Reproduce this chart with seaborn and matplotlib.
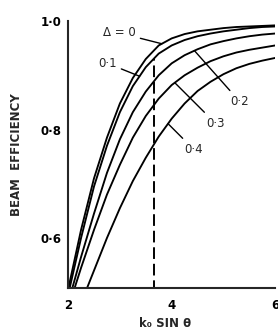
import matplotlib
matplotlib.use("Agg")
import matplotlib.pyplot as plt
from matplotlib.ticker import FixedLocator, FixedFormatter
import numpy as np
import pandas as pd
import seaborn as sns

# Data: beam efficiency vs k0 sin(theta), one curve per Delta
k_sin = [2.0, 2.25, 2.5, 2.75, 3.0, 3.25, 3.5, 3.75, 4.0,
         4.25, 4.5, 4.75, 5.0, 5.25, 5.5, 5.75, 6.0]
eff_d0 = [0.505, 0.615, 0.71, 0.785, 0.848, 0.895, 0.93, 0.955, 0.968,
          0.976, 0.981, 0.984, 0.987, 0.989, 0.99, 0.991, 0.992]
eff_d1 = [0.495, 0.6, 0.695, 0.77, 0.832, 0.88, 0.915, 0.94, 0.955,
          0.965, 0.972, 0.977, 0.981, 0.984, 0.987, 0.989, 0.99]
eff_d2 = [0.48, 0.565, 0.645, 0.72, 0.782, 0.832, 0.87, 0.9, 0.922,
          0.937, 0.948, 0.957, 0.963, 0.968, 0.972, 0.975, 0.977]
eff_d3 = [0.47, 0.545, 0.615, 0.68, 0.735, 0.785, 0.825, 0.857, 0.882,
          0.9, 0.914, 0.926, 0.935, 0.942, 0.947, 0.951, 0.955]
eff_d4 = [0.43, 0.48, 0.54, 0.6, 0.655, 0.705, 0.748, 0.787, 0.82,
          0.848, 0.871, 0.888, 0.902, 0.913, 0.921, 0.927, 0.932]
deltas = ["0", "0·1", "0·2", "0·3", "0·4"]
marker_x = 3.65

curves = [eff_d0, eff_d1, eff_d2, eff_d3, eff_d4]
df = pd.concat([pd.DataFrame({"x": k_sin, "eff": c, "delta": d})
                for c, d in zip(curves, deltas)])

sns.set_style("white")
plt.rcParams["font.family"] = ["DejaVu Sans"]

fig = plt.figure(figsize=(2.78, 3.34), dpi=100)
ax = fig.add_axes([0.245, 0.138, 0.745, 0.799])

sns.lineplot(data=df, x="x", y="eff", hue="delta", palette=["black"] * 5,
             linewidth=1.35, legend=False, ax=ax)

# dashed vertical marker
top = np.interp(marker_x, k_sin, eff_d1)
ax.vlines(marker_x, 0.5, top, colors="black", linestyles=(0, (6, 2.5)), lw=1.4)

# curve labels with leader lines
labels = [("Δ = 0", eff_d0, 3.81, (2.99, 0.978)),
          ("0·1", eff_d1, 3.38, (2.76, 0.922)),
          ("0·2", eff_d2, 4.44, (5.31, 0.852)),
          ("0·3", eff_d3, 4.06, (4.84, 0.812)),
          ("0·4", eff_d4, 3.93, (4.42, 0.764))]
for txt, c, x0, pos in labels:
    ax.annotate(txt, xy=(x0, np.interp(x0, k_sin, c)), xytext=pos,
                ha="center", va="center", fontsize=8.5,
                arrowprops=dict(arrowstyle="-", lw=1.0, color="black",
                                shrinkA=1, shrinkB=0))

ax.set_xlim(2, 6.0)
ax.set_ylim(0.508, 1.0)
ax.xaxis.set_major_locator(FixedLocator([2, 4, 6]))
ax.xaxis.set_minor_locator(FixedLocator([3, 5]))
ax.yaxis.set_major_locator(FixedLocator([0.6, 0.8, 1.0]))
ax.yaxis.set_major_formatter(FixedFormatter(["0·6", "0·8", "1·0"]))
ax.yaxis.set_minor_locator(FixedLocator([0.7, 0.9]))
ax.tick_params(which="both", direction="in", length=4, width=1.1,
               labelsize=8.5, colors="black")
ax.tick_params(axis="x", pad=8)
ax.tick_params(axis="y", pad=5)
for lab in ax.get_xticklabels() + ax.get_yticklabels():
    lab.set_fontweight("bold")

sns.despine(ax=ax)
ax.spines["left"].set_linewidth(1.5)
ax.spines["bottom"].set_linewidth(1.5)

ax.set_xlabel("k₀ SIN θ", fontsize=8.5, fontweight="bold")
ax.xaxis.set_label_coords(0.47, -0.11)
ax.set_ylabel("BEAM  EFFICIENCY", fontsize=8.5, fontweight="bold")
ax.yaxis.set_label_coords(-0.22, 0.5)

fig.savefig("out.png", dpi=100)
